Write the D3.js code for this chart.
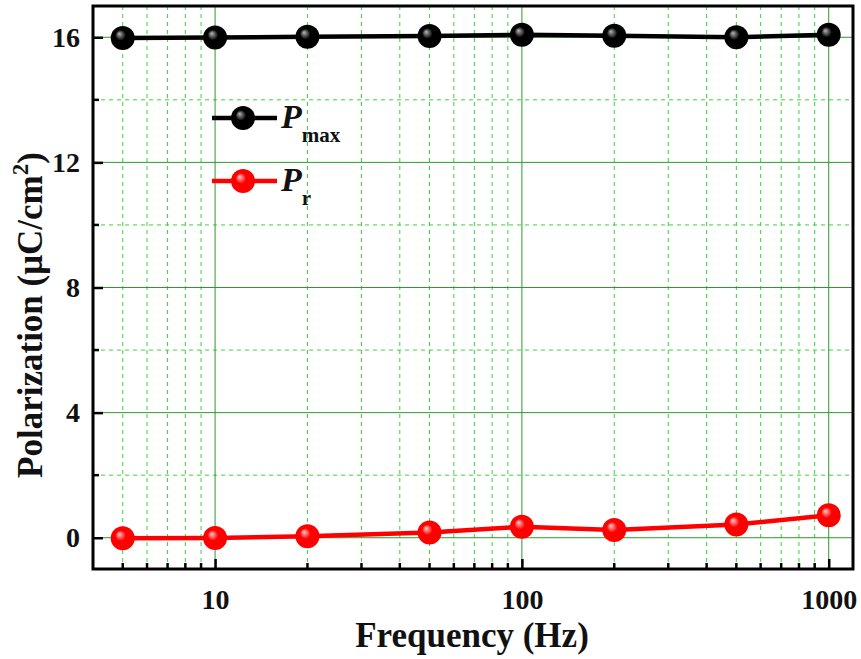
<!DOCTYPE html>
<html>
<head>
<meta charset="utf-8">
<script src="https://cdn.jsdelivr.net/npm/d3@7"></script>
<style>
body { margin: 0; background: #fff; }
text { font-family: "Liberation Serif", "Times New Roman", serif; font-weight: bold; }
</style>
</head>
<body>
<div id="chart"></div>
<script>
var frequency = [5, 10, 20, 50, 100, 200, 500, 1000];
var pMax = [15.98, 15.99, 16.02, 16.04, 16.08, 16.05, 16.0, 16.08];
var pR = [-0.02, -0.01, 0.05, 0.17, 0.35, 0.25, 0.42, 0.72];
var yTicks = [0, 4, 8, 12, 16];
var yMinor = [2, 6, 10, 14];
var xTicks = [10, 100, 1000];

var w = 861, h = 659;
var plotL = 93, plotR = 853, plotT = 6, plotB = 569;

var svg = d3.select("#chart").append("svg")
    .attr("width", w)
    .attr("height", h);

var defs = svg.append("defs");
function ballGradient(id, base, light) {
    var g = defs.append("radialGradient").attr("id", id)
        .attr("cx", "50%").attr("cy", "50%").attr("r", "55%")
        .attr("fx", "35%").attr("fy", "32%");
    g.append("stop").attr("offset", "0%").attr("stop-color", light);
    g.append("stop").attr("offset", "40%").attr("stop-color", base);
    g.append("stop").attr("offset", "100%").attr("stop-color", base);
}
ballGradient("ballBlack", "#000", "#b8b8b8");
ballGradient("ballRed", "#f00", "#ffd0d0");

var x = d3.scaleLog().domain([4, 1200]).range([plotL, plotR]);
var y = d3.scaleLinear().domain([-1, 17]).range([plotB, plotT]);

// minor x positions
var xMinor = [];
[1, 10, 100].forEach(function(d) {
    for (var k = 2; k <= 9; k++) {
        var v = d * k;
        if (v > 4 && v < 1200) xMinor.push(v);
    }
});

var grid = svg.append("g");
grid.selectAll(".xminor").data(xMinor).enter().append("line")
    .attr("x1", function(d) { return x(d); }).attr("x2", function(d) { return x(d); })
    .attr("y1", plotT).attr("y2", plotB)
    .attr("stroke", "#3ad43a").attr("stroke-width", 1).attr("stroke-dasharray", "4,4");
grid.selectAll(".yminor").data(yMinor).enter().append("line")
    .attr("x1", plotL).attr("x2", plotR)
    .attr("y1", function(d) { return y(d); }).attr("y2", function(d) { return y(d); })
    .attr("stroke", "#3ad43a").attr("stroke-width", 1).attr("stroke-dasharray", "4,4");
grid.selectAll(".xmajor").data(xTicks).enter().append("line")
    .attr("x1", function(d) { return x(d); }).attr("x2", function(d) { return x(d); })
    .attr("y1", plotT).attr("y2", plotB)
    .attr("stroke", "#2e9a2e").attr("stroke-width", 1);
grid.selectAll(".ymajor").data(yTicks).enter().append("line")
    .attr("x1", plotL).attr("x2", plotR)
    .attr("y1", function(d) { return y(d); }).attr("y2", function(d) { return y(d); })
    .attr("stroke", "#2e9a2e").attr("stroke-width", 1);

// axes with inward ticks
var xAxis = svg.append("g").attr("transform", "translate(0," + plotB + ")")
    .call(d3.axisBottom(x).tickValues(xTicks).tickSizeInner(-10).tickSizeOuter(0)
        .tickPadding(20).tickFormat(d3.format("d")));
xAxis.append("g").selectAll("line").data(xMinor).enter().append("line")
    .attr("x1", function(d) { return x(d); }).attr("x2", function(d) { return x(d); })
    .attr("y1", 0).attr("y2", -6).attr("stroke", "#000").attr("stroke-width", 2.5);

var yAxis = svg.append("g").attr("transform", "translate(" + plotL + ",0)")
    .call(d3.axisLeft(y).tickValues(yTicks).tickSizeInner(-10).tickSizeOuter(0)
        .tickPadding(13));
yAxis.append("g").selectAll("line").data(yMinor).enter().append("line")
    .attr("y1", function(d) { return y(d); }).attr("y2", function(d) { return y(d); })
    .attr("x1", 0).attr("x2", 6).attr("stroke", "#000").attr("stroke-width", 2.5);

[xAxis, yAxis].forEach(function(a) {
    a.attr("font-family", "'Liberation Serif', serif").attr("font-size", 28);
    a.select(".domain").remove();
    a.selectAll(".tick line").attr("stroke", "#000").attr("stroke-width", 2.5);
    a.selectAll(".tick text").attr("fill", "#111");
});

// frame
svg.append("rect").attr("x", plotL).attr("y", plotT)
    .attr("width", plotR - plotL).attr("height", plotB - plotT)
    .attr("fill", "none").attr("stroke", "#000").attr("stroke-width", 3);

// series
var line = d3.line().x(function(d) { return x(d[0]); }).y(function(d) { return y(d[1]); });
var series = [
    { vals: pMax, color: "#000", grad: "url(#ballBlack)" },
    { vals: pR, color: "#f00", grad: "url(#ballRed)" }
];
series.forEach(function(s) {
    var pts = frequency.map(function(f, i) { return [f, s.vals[i]]; });
    svg.append("path").datum(pts).attr("d", line)
        .attr("fill", "none").attr("stroke", s.color).attr("stroke-width", 4.5);
    svg.append("g").selectAll("circle").data(pts).enter().append("circle")
        .attr("cx", function(d) { return x(d[0]); })
        .attr("cy", function(d) { return y(d[1]); })
        .attr("r", 12).attr("fill", s.grad);
});

// legend
var legend = [
    { name: "max", color: "#000", grad: "url(#ballBlack)", y: 118 },
    { name: "r", color: "#f00", grad: "url(#ballRed)", y: 181 }
];
legend.forEach(function(l) {
    svg.append("line").attr("x1", 212).attr("x2", 277).attr("y1", l.y).attr("y2", l.y)
        .attr("stroke", l.color).attr("stroke-width", 4.5);
    svg.append("circle").attr("cx", 243).attr("cy", l.y).attr("r", 12).attr("fill", l.grad);
    var t = svg.append("text").attr("x", 281).attr("y", l.y + 10).attr("font-size", 34).attr("fill", "#111");
    t.append("tspan").attr("font-style", "italic").text("P");
    t.append("tspan").attr("font-size", 21).attr("dy", 14).text(l.name);
});

// axis titles
svg.append("text").attr("x", 472).attr("y", 647)
    .attr("text-anchor", "middle").attr("font-size", 35).attr("fill", "#111")
    .text("Frequency (Hz)");
var yt = svg.append("text").attr("transform", "translate(42,315) rotate(-90)")
    .attr("text-anchor", "middle").attr("font-size", 35).attr("fill", "#111");
yt.append("tspan").text("Polarization (\u03bcC/cm");
yt.append("tspan").attr("font-size", 23).attr("dy", -14).text("2");
yt.append("tspan").attr("dy", 14).text(")");
</script>
</body>
</html>
